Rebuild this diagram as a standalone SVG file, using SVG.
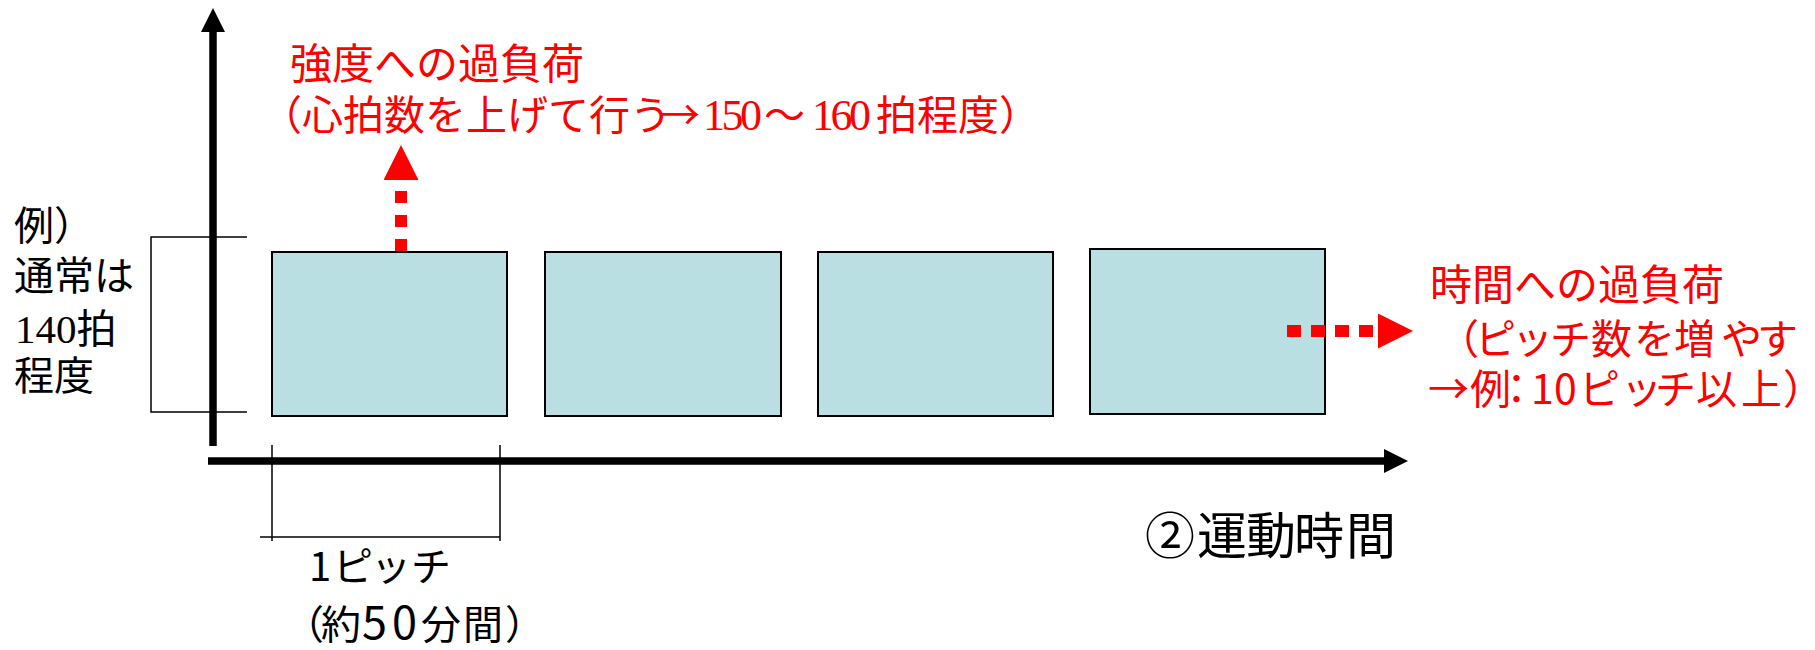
<svg xmlns="http://www.w3.org/2000/svg" width="1815" height="650" viewBox="0 0 1815 650">
<style>
.jp { font-family: "Noto Sans CJK JP", "Noto Sans", sans-serif; }
.serif { font-family: "Liberation Serif", "Noto Sans CJK JP", serif; }
.red { fill: #FF0000; }
.blk { fill: #000000; }
.pitch { fill: #BADFE3; stroke: #000000; stroke-width: 2; }
.axis { stroke: #000000; stroke-width: 7.5; fill: none; }
.thin { stroke: #000000; stroke-width: 1.5; fill: none; }
.dots { stroke: #FF0000; stroke-width: 12; fill: none; }
</style>
<defs>
<marker id="blackHead" markerUnits="userSpaceOnUse" markerWidth="24" markerHeight="24" refX="0" refY="12" orient="auto" viewBox="0 0 24 24">
<path d="M0,0 L24,12 L0,24 z" fill="#000000"/>
</marker>
<marker id="redHead" markerUnits="userSpaceOnUse" markerWidth="35" markerHeight="35" refX="0" refY="17.5" orient="auto" viewBox="0 0 35 35">
<path d="M0,0 L35,17.5 L0,35 z" fill="#FF0000"/>
</marker>
</defs>
<rect width="1815" height="650" fill="#FFFFFF"/>

<g id="pitch1"><rect class="pitch" x="272" y="252" width="235" height="164"/></g>
<g id="pitch2"><rect class="pitch" x="545" y="252" width="236" height="164"/></g>
<g id="pitch3"><rect class="pitch" x="818" y="252" width="235" height="164"/></g>
<g id="pitch4"><rect class="pitch" x="1090" y="249" width="235" height="165"/></g>

<g id="connectors">
<line class="axis" x1="213" y1="446" x2="213" y2="32" marker-end="url(#blackHead)"/>
<line class="axis" x1="208" y1="461" x2="1384" y2="461" marker-end="url(#blackHead)"/>
<polyline class="thin" points="247,237 151,237 151,412 247,412"/>
<line class="thin" x1="272" y1="445" x2="272" y2="541"/>
<line class="thin" x1="500" y1="445" x2="500" y2="541"/>
<line class="thin" x1="260" y1="537" x2="500" y2="537"/>
<line class="dots" x1="401" y1="251" x2="401" y2="180" stroke-dasharray="12 12" marker-end="url(#redHead)"/>
<line class="dots" x1="1287" y1="331" x2="1378" y2="331" stroke-dasharray="14 10" marker-end="url(#redHead)"/>
</g>

<g id="label-intensity">
<text class="jp red" font-size="42" x="290" y="79">強度への過負荷</text>
<text class="jp red" font-size="41" y="130"><tspan x="261">（心拍数を上げて行う</tspan><tspan x="659">→</tspan><tspan class="serif" font-size="44" x="703 721.5 740">150</tspan><tspan x="764">〜</tspan><tspan class="serif" font-size="44" x="812 830.5 849">160</tspan><tspan x="876">拍程度）</tspan></text>
</g>

<g id="label-normal">
<text class="jp blk" font-size="40" x="14" y="240">例）</text>
<text class="jp blk" font-size="40" x="14" y="290">通常は</text>
<text class="jp blk" font-size="40" x="15" y="343"><tspan class="serif" font-size="41">140</tspan>拍</text>
<text class="jp blk" font-size="40" x="14" y="390">程度</text>
</g>

<g id="label-time">
<text class="jp red" font-size="42" x="1430" y="300">時間への過負荷</text>
<text class="jp red" font-size="41" x="1438 1475 1512 1550 1591 1634 1674 1721 1757" y="354">（ピッチ数を増やす</text>
<text class="jp red" font-size="41" x="1428 1470 1496 1531 1554 1579 1621 1655 1696 1741 1783" y="404">→例：10ピッチ以上）</text>
</g>

<g id="label-pitch">
<text class="jp blk" font-size="40" x="309 333 371 411" y="581">1ピッチ</text>
<text class="jp blk" font-size="40" y="639"><tspan x="284 321">（約</tspan><tspan font-size="45" x="362 392">50</tspan><tspan x="421 463 505">分間）</tspan></text>
</g>

<g id="label-axis">
<text class="jp blk" font-size="50" x="1145 1197 1246 1294 1346" y="554">②運動時間</text>
</g>
</svg>
